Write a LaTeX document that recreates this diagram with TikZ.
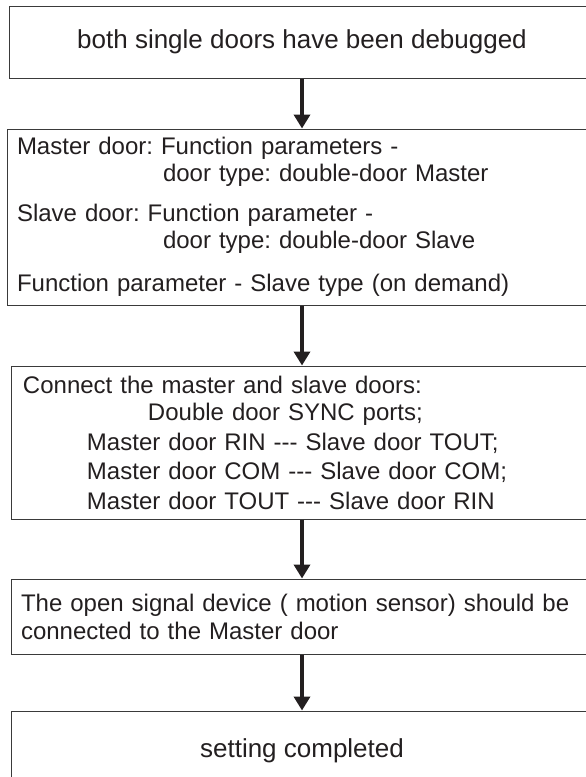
\documentclass[tikz,border=0pt]{standalone}
\usepackage{fontspec}
\setmainfont{Liberation Sans}
\usetikzlibrary{arrows.meta,positioning}
\definecolor{boxline}{HTML}{3A3A3A}
\definecolor{inktext}{HTML}{231F20}
\frenchspacing

\begin{document}
\begin{tikzpicture}[x=1pt,y=1pt,
 stepbox/.style={draw=boxline,line width=1pt,text=inktext,inner ysep=0pt},
 bigstep/.style={stepbox,minimum width=586pt,inner xsep=0pt,font=\fontsize{26}{30}\selectfont},
 liststep/.style={stepbox,align=left,font=\fontsize{24}{28}\selectfont},
 flowarrow/.style={draw=inktext,line width=4.5pt,-{Triangle[width=16pt,length=14pt]}}]
\useasboundingbox (0,0) rectangle (586,-777);
% steps
\node[bigstep,minimum height=72pt] (debugged) at (302,-42) {both single doors have been debugged};
\node[liststep,font=\fontsize{24}{27}\selectfont,text width=570pt,inner xsep=10pt,minimum height=176pt,below=50pt of debugged] (params) {Master door: Function parameters -\\
\hspace*{146pt}door type: double-door Master\\[13pt]
Slave door: Function parameter -\\
\hspace*{146pt}door type: double-door Slave\\[16pt]
Function parameter - Slave type (on demand)};
\node[liststep,font=\fontsize{24}{29.5}\selectfont,text width=558pt,inner xsep=12pt,minimum height=153pt,below=60pt of params] (wiring) {Connect the master and slave doors:\\[-2pt]
\hspace*{125pt}Double door SYNC ports;\\
\hspace*{64pt}Master door RIN -{}-{}- Slave door TOUT;\\
\hspace*{64pt}Master door COM -{}-{}- Slave door COM;\\
\hspace*{64pt}Master door TOUT -{}-{}- Slave door RIN};
\node[liststep,text width=562pt,inner xsep=10pt,minimum height=75pt,below=59pt of wiring] (sensor) {The open signal device ( motion sensor) should be\\
connected to the Master door};
\node[bigstep,minimum width=582pt,minimum height=80pt,below=56pt of sensor] (done) {setting completed};
% arrows
\draw[flowarrow] (debugged.south) -- (params.north);
\draw[flowarrow] (params.south) -- (wiring.north);
\draw[flowarrow] (wiring.south) -- (sensor.north);
\draw[flowarrow] (sensor.south) -- (done.north);
\end{tikzpicture}
\end{document}
